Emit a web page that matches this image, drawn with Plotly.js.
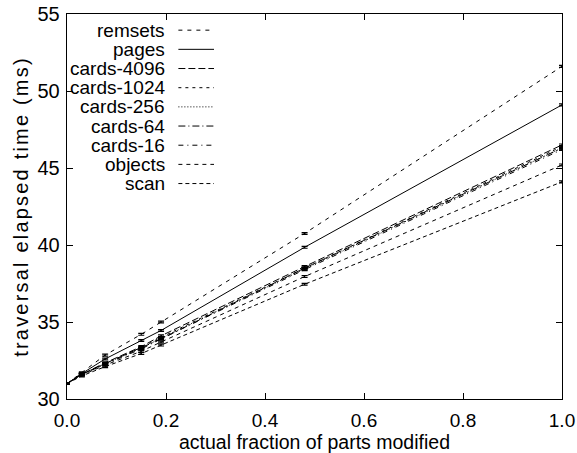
<!DOCTYPE html>
<html>
<head>
<meta charset="utf-8">
<script src="https://cdn.plot.ly/plotly-3.0.1.min.js"></script>
<style>
html,body{margin:0;padding:0;background:#fff;}
#chart{width:577px;height:453px;}
.ytitle{letter-spacing:2.2px;}
</style>
</head>
<body>
<div id="chart"></div>
<script>
// Data
const fractions = [0, 0.03, 0.077, 0.15, 0.19, 0.48, 1.0];
const seriesNames = ["remsets", "pages", "cards-4096", "cards-1024", "cards-256", "cards-64", "cards-16", "objects", "scan"];
const remsets   = [31.0, 31.70, 32.85, 34.20, 35.00, 40.75, 51.60];
const pages     = [31.0, 31.65, 32.60, 33.80, 34.45, 39.85, 49.10];
const cards4096 = [31.0, 31.60, 32.35, 33.40, 34.10, 38.60, 46.50];
const cards1024 = [31.0, 31.60, 32.30, 33.35, 34.00, 38.50, 46.40];
const cards256  = [31.0, 31.60, 32.30, 33.30, 33.95, 38.45, 46.30];
const cards64   = [31.0, 31.60, 32.30, 33.30, 33.90, 38.50, 46.30];
const cards16   = [31.0, 31.60, 32.25, 33.25, 33.90, 38.40, 46.20];
const objects   = [31.0, 31.55, 32.20, 33.10, 33.70, 37.95, 45.20];
const scan      = [31.0, 31.50, 32.10, 32.95, 33.50, 37.45, 44.10];
const seriesValues = [remsets, pages, cards4096, cards1024, cards256, cards64, cards16, objects, scan];
const yTickValues = [30, 35, 40, 45, 50, 55];
const xTickValues = [0, 0.2, 0.4, 0.6, 0.8, 1.0];

// Styles
const dashes = ["4px,5px", "solid", "7px,3px", "3px,4px", "1px,2px", "7px,3px,1px,3px", "5px,4px,1px,4px", "4px,4px", "4px,3px"];
const FONT = "Liberation Sans, Arial, Helvetica, sans-serif";

const traces = seriesNames.map((name, i) => ({
  type: "scatter",
  mode: "lines",
  name: name,
  x: fractions,
  y: seriesValues[i],
  line: {color: "#000", width: 1, dash: dashes[i]},
  error_y: {type: "constant", value: 0.06, width: 3, thickness: 1.2, color: "#000"},
  showlegend: false
}));

// gnuplot-style key: right-aligned labels, sample line to the right
const annotations = [];
const shapes = [];
const keyTop = 0.958, keyStep = 0.0498;
seriesNames.forEach((name, i) => {
  const yy = keyTop - i * keyStep;
  annotations.push({
    xref: "paper", yref: "paper", x: 0.203, y: yy,
    xanchor: "right", yanchor: "middle", showarrow: false,
    text: name, font: {family: FONT, size: 19, color: "#000"}
  });
  shapes.push({
    type: "line", xref: "paper", yref: "paper",
    x0: 0.225, x1: 0.297, y0: yy, y1: yy,
    line: {color: "#000", width: 1, dash: dashes[i]}
  });
});

const layout = {
  width: 577, height: 453,
  margin: {l: 67, r: 15, t: 14, b: 54},
  paper_bgcolor: "#fff", plot_bgcolor: "#fff",
  font: {family: FONT, size: 19, color: "#000"},
  showlegend: false,
  xaxis: {
    range: [0, 1], tickvals: xTickValues, tickformat: ".1f",
    ticks: "inside", ticklen: 6, tickwidth: 1, tickcolor: "#000",
    showline: true, linecolor: "#000", linewidth: 1.3, mirror: "ticks",
    showgrid: false, zeroline: false, ticklabelstandoff: 4,
    tickfont: {family: FONT, size: 19},
    title: {text: "actual fraction of parts modified", font: {family: FONT, size: 19.5}, standoff: 10}
  },
  yaxis: {
    range: [30, 55], tickvals: yTickValues,
    ticks: "inside", ticklen: 6, tickwidth: 1, tickcolor: "#000",
    showline: true, linecolor: "#000", linewidth: 1.3, mirror: "ticks",
    showgrid: false, zeroline: false, ticklabelstandoff: 2,
    tickfont: {family: FONT, size: 20},
    title: {text: "traversal elapsed time (ms)", font: {family: FONT, size: 20}, standoff: 3}
  },
  annotations: annotations,
  shapes: shapes
};

Plotly.newPlot("chart", traces, layout, {staticPlot: true, displayModeBar: false});
</script>
</body>
</html>
